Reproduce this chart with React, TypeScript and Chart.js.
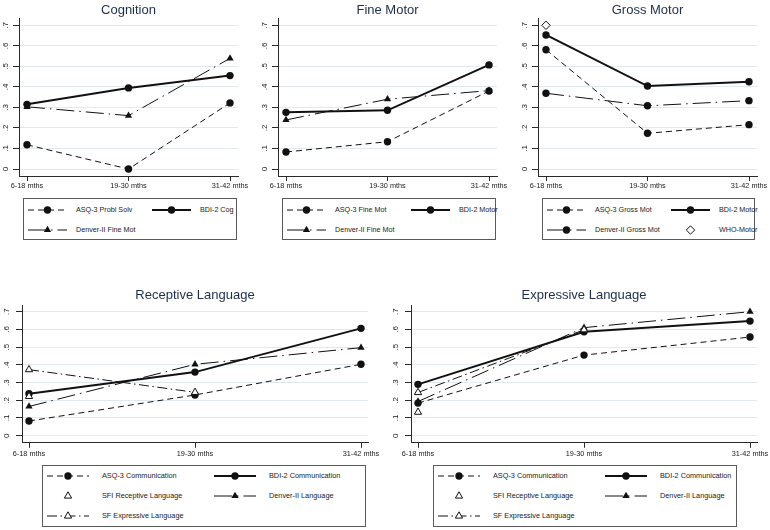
import React, { useEffect, useRef } from "react";
import { Chart, registerables } from "chart.js";

Chart.register(...registerables);

// ---------------- data ----------------
const categories = ["6-18 mths", "19-30 mths", "31-42 mths"];
const yTicks = [0, 0.1, 0.2, 0.3, 0.4, 0.5, 0.6, 0.7];
const yTickLabels = ["0", ".1", ".2", ".3", ".4", ".5", ".6", ".7"];

// Cognition
const cogAsq = [0.118, 0.0, 0.322];
const cogBdi = [0.315, 0.395, 0.455];
const cogDenver = [0.303, 0.26, 0.539];

// Fine Motor
const fineAsq = [0.083, 0.133, 0.38];
const fineBdi = [0.276, 0.286, 0.507];
const fineDenver = [0.239, 0.34, 0.382];

// Gross Motor
const grossAsq = [0.581, 0.174, 0.216];
const grossBdi = [0.653, 0.404, 0.425];
const grossDenver = [0.369, 0.308, 0.333];
const grossWho = [0.7, null, null];

// Receptive Language
const recAsq = [0.083, 0.23, 0.403];
const recBdi = [0.237, 0.359, 0.606];
const recSfi = [0.222, null, null];
const recDenver = [0.165, 0.403, 0.497];
const recSfe = [0.373, 0.245, null];

// Expressive Language
const expAsq = [0.184, 0.455, 0.557];
const expBdi = [0.29, 0.587, 0.647];
const expSfi = [0.133, null, null];
const expDenver = [0.193, 0.61, 0.7];
const expSfe = [0.244, 0.598, null];

// ---------------- styles ----------------
const FONT = '"Liberation Sans", Arial, Helvetica, sans-serif';
const TEXT = "#1a1a1a";
const AXIS = "#2a2a2a";
const GRID = "#e1e9ed";
const TITLE = "#1e2e4d";
const INK = "#111111";

type StyleKey = "asq" | "bdi" | "denverTri" | "denverCirc" | "sfi" | "sfe" | "who";
interface St {
  line: boolean;
  width: number;
  dash: number[];
  marker: "circle" | "triangle" | "rectRot";
  r: number;
  hollow: boolean;
}
const STYLES: Record<StyleKey, St> = {
  asq: { line: true, width: 1, dash: [6, 4], marker: "circle", r: 3.7, hollow: false },
  bdi: { line: true, width: 2, dash: [], marker: "circle", r: 3.7, hollow: false },
  denverTri: { line: true, width: 1, dash: [18, 5, 1.5, 5], marker: "triangle", r: 4.2, hollow: false },
  denverCirc: { line: true, width: 1, dash: [18, 5, 1.5, 5], marker: "circle", r: 3.7, hollow: false },
  sfi: { line: false, width: 1, dash: [], marker: "triangle", r: 4.2, hollow: true },
  sfe: { line: true, width: 1, dash: [10, 3.5, 1.5, 3.5], marker: "triangle", r: 4.2, hollow: true },
  who: { line: false, width: 1, dash: [], marker: "rectRot", r: 4.2, hollow: true },
};

interface Series {
  label: string;
  values: (number | null)[];
  style: StyleKey;
}
interface LegendCfg {
  x: number; y: number; w: number; h: number;
  pad: number; colW: number; sampleW: number; textOff: number;
  row0: number; rowH: number; font: number;
}
interface PanelCfg {
  title: string;
  series: Series[];
  cx: number; cy: number; cw: number; ch: number;
  L: number; R: number; B: number;
  ymin: number; ymax: number;
  padPx: number;
  titleTop: number; titleBottom: number;
  xLabPad: number; yLabOff: number;
  legend: LegendCfg;
}

const topLegend = (x: number, w: number): LegendCfg => ({
  x, y: 198, w, h: 42, pad: 5, colW: 124, sampleW: 39, textOff: 48, row0: 12, rowH: 19.5, font: 7.2,
});
const botLegend = (x: number, w: number): LegendCfg => ({
  x, y: 465, w, h: 62, pad: 5, colW: 167, sampleW: 42, textOff: 55, row0: 11, rowH: 20, font: 7.3,
});

const topCommon = {
  cy: 0, ch: 195, B: 176, ymin: -0.034, ymax: 0.7355, padPx: 8,
  titleTop: 2.4, titleBottom: 0.0, xLabPad: 1, yLabOff: 11.5,
};
const botCommon = {
  cy: 270, ch: 192, B: 442.8, ymin: -0.04, ymax: 0.735, padPx: 7,
  titleTop: 18.0, titleBottom: 1.9, xLabPad: 1.5, yLabOff: 13,
};

const PANELS: PanelCfg[] = [
  {
    ...topCommon, title: "Cognition", cx: 0, cw: 255, L: 19, R: 238,
    series: [
      { label: "ASQ-3 Probl Solv", values: cogAsq, style: "asq" },
      { label: "BDI-2 Cog", values: cogBdi, style: "bdi" },
      { label: "Denver-II Fine Mot", values: cogDenver, style: "denverTri" },
    ],
    legend: topLegend(23, 214),
  },
  {
    ...topCommon, title: "Fine Motor", cx: 255, cw: 255, L: 278, R: 497,
    series: [
      { label: "ASQ-3 Fine Mot", values: fineAsq, style: "asq" },
      { label: "BDI-2 Motor", values: fineBdi, style: "bdi" },
      { label: "Denver-II Fine Mot", values: fineDenver, style: "denverTri" },
    ],
    legend: topLegend(282, 214),
  },
  {
    ...topCommon, title: "Gross Motor", cx: 510, cw: 260, L: 538, R: 757,
    series: [
      { label: "ASQ-3 Gross Mot", values: grossAsq, style: "asq" },
      { label: "BDI-2 Motor", values: grossBdi, style: "bdi" },
      { label: "Denver-II Gross Mot", values: grossDenver, style: "denverCirc" },
      { label: "WHO-Motor", values: grossWho, style: "who" },
    ],
    legend: topLegend(542, 213),
  },
  {
    ...botCommon, title: "Receptive Language", cx: 0, cw: 385, L: 22, R: 368,
    series: [
      { label: "ASQ-3 Communication", values: recAsq, style: "asq" },
      { label: "BDI-2 Communication", values: recBdi, style: "bdi" },
      { label: "SFI Receptive Language", values: recSfi, style: "sfi" },
      { label: "Denver-II Language", values: recDenver, style: "denverTri" },
      { label: "SF Expressive Language", values: recSfe, style: "sfe" },
    ],
    legend: botLegend(42, 324),
  },
  {
    ...botCommon, title: "Expressive Language", cx: 385, cw: 385, L: 411, R: 757,
    series: [
      { label: "ASQ-3 Communication", values: expAsq, style: "asq" },
      { label: "BDI-2 Communication", values: expBdi, style: "bdi" },
      { label: "SFI Receptive Language", values: expSfi, style: "sfi" },
      { label: "Denver-II Language", values: expDenver, style: "denverTri" },
      { label: "SF Expressive Language", values: expSfe, style: "sfe" },
    ],
    legend: botLegend(433, 304),
  },
];

// ---------------- legend key ----------------
function LegendKey({ st, w }: { st: St; w: number }) {
  const cy = 5;
  const mx = w / 2;
  const fill = st.hollow ? "#fff" : INK;
  let marker: React.ReactNode = null;
  if (st.marker === "circle") {
    marker = <circle cx={mx} cy={cy} r={st.r} fill={fill} />;
  } else if (st.marker === "triangle") {
    const r = st.r;
    const pts = `${mx},${cy - r} ${mx + r * 0.866},${cy + r / 2} ${mx - r * 0.866},${cy + r / 2}`;
    marker = <polygon points={pts} fill={fill} stroke={INK} strokeWidth={st.hollow ? 1 : 0} />;
  } else {
    const r = st.r;
    const pts = `${mx - r},${cy} ${mx},${cy - r} ${mx + r},${cy} ${mx},${cy + r}`;
    marker = <polygon points={pts} fill={fill} stroke={INK} strokeWidth={1} />;
  }
  return (
    <svg width={w} height={10} style={{ position: "absolute", left: 0, top: 0, overflow: "visible" }}>
      {st.line && (
        <line
          x1={0}
          x2={w}
          y1={cy}
          y2={cy}
          stroke={INK}
          strokeWidth={st.width}
          strokeDasharray={st.dash.length ? st.dash.join(" ") : undefined}
        />
      )}
      {marker}
    </svg>
  );
}

function Legend({ p }: { p: PanelCfg }) {
  const lg = p.legend;
  return (
    <div
      style={{
        position: "absolute",
        left: lg.x,
        top: lg.y,
        width: lg.w,
        height: lg.h,
        border: "1px solid #5a5a5a",
        boxSizing: "border-box",
        background: "#fff",
      }}
    >
      {p.series.map((s, i) => {
        const col = i % 2;
        const row = Math.floor(i / 2);
        const left = lg.pad + col * lg.colW - 1;
        const cy = lg.row0 + row * lg.rowH - 1;
        return (
          <React.Fragment key={i}>
            <div style={{ position: "absolute", left, top: cy - 5, width: lg.sampleW, height: 10 }}>
              <LegendKey st={STYLES[s.style]} w={lg.sampleW} />
            </div>
            <span
              style={{
                position: "absolute",
                left: left + lg.textOff,
                top: cy - 5,
                height: 10,
                lineHeight: "10px",
                fontSize: lg.font,
                fontFamily: FONT,
                color: TEXT,
                whiteSpace: "nowrap",
              }}
            >
              {s.label}
            </span>
          </React.Fragment>
        );
      })}
    </div>
  );
}

// ---------------- panel ----------------
function Panel({ p }: { p: PanelCfg }) {
  const ref = useRef<HTMLCanvasElement>(null);
  useEffect(() => {
    if (!ref.current) return;
    const spacing = (p.R - p.L - 2 * p.padPx) / (categories.length - 1);
    const xPad = p.padPx / spacing;
    const yLabelPlugin = {
      id: "yRotLabels",
      afterDraw(chart: any) {
        const s = chart.scales.y;
        const ctx = chart.ctx as CanvasRenderingContext2D;
        ctx.save();
        ctx.fillStyle = TEXT;
        ctx.font = `8px ${FONT}`;
        ctx.textAlign = "center";
        ctx.textBaseline = "alphabetic";
        yTicks.forEach((v, i) => {
          const y = s.getPixelForValue(v);
          ctx.save();
          ctx.translate(chart.chartArea.left - p.yLabOff, y);
          ctx.rotate(-Math.PI / 2);
          ctx.fillText(yTickLabels[i], 0, 0);
          ctx.restore();
        });
        ctx.restore();
      },
    };
    const datasets = p.series.map((s, i) => {
      const st = STYLES[s.style];
      return {
        label: s.label,
        data: s.values.map((v, j) => ({ x: j, y: v })),
        showLine: st.line,
        borderColor: INK,
        borderWidth: st.width,
        borderDash: st.dash,
        pointStyle: st.marker,
        pointRadius: st.r,
        pointHoverRadius: st.r,
        pointBackgroundColor: st.hollow ? "#ffffff" : INK,
        pointBorderColor: INK,
        pointBorderWidth: st.hollow ? 1 : 0,
        tension: 0,
        spanGaps: false,
        fill: false,
        clip: false as any,
        order: -i,
      };
    });
    const chart = new Chart(ref.current, {
      type: "line",
      data: { datasets: datasets as any },
      options: {
        animation: false,
        responsive: false,
        events: [],
        layout: { padding: { left: 0, right: p.cx + p.cw - p.R, top: 0, bottom: 0 } },
        plugins: {
          legend: { display: false },
          tooltip: { enabled: false },
          title: {
            display: true,
            text: p.title,
            fullSize: false,
            color: TITLE,
            font: { size: 13, weight: "normal", family: FONT, lineHeight: 1.2 },
            padding: { top: p.titleTop, bottom: p.titleBottom },
          },
        },
        scales: {
          x: {
            type: "linear",
            min: -xPad,
            max: categories.length - 1 + xPad,
            afterBuildTicks: (s: any) => {
              s.ticks = categories.map((_, i) => ({ value: i }));
            },
            afterFit: (s: any) => {
              s.height = p.cy + p.ch - p.B;
              s.paddingLeft = 0;
              s.paddingRight = 0;
            },
            ticks: {
              callback: (v: any) => categories[Math.round(Number(v))],
              autoSkip: false,
              maxRotation: 0,
              minRotation: 0,
              padding: p.xLabPad,
              color: TEXT,
              font: { size: 7.3, family: FONT },
            },
            grid: {
              drawOnChartArea: false,
              drawTicks: true,
              tickLength: 5,
              tickColor: AXIS,
              tickWidth: 1,
            },
            border: { display: true, color: AXIS, width: 1 },
          },
          y: {
            type: "linear",
            min: p.ymin,
            max: p.ymax,
            afterBuildTicks: (s: any) => {
              s.ticks = yTicks.map((v) => ({ value: v }));
            },
            afterFit: (s: any) => {
              s.width = p.L - p.cx;
              s.paddingTop = 0;
              s.paddingBottom = 0;
            },
            ticks: { display: false },
            grid: {
              color: GRID,
              lineWidth: 1,
              drawTicks: true,
              tickLength: 6,
              tickColor: AXIS,
              tickWidth: 1,
            },
            border: { display: true, color: AXIS, width: 1 },
          },
        },
      } as any,
      plugins: [yLabelPlugin],
    });
    return () => chart.destroy();
  }, [p]);

  return (
    <>
      <canvas
        ref={ref}
        width={p.cw}
        height={p.ch}
        style={{ position: "absolute", left: p.cx, top: p.cy, width: p.cw, height: p.ch, display: "block" }}
      />
      <Legend p={p} />
    </>
  );
}

export default function App() {
  return (
    <div
      style={{
        position: "absolute",
        left: 0,
        top: 0,
        width: 770,
        height: 530,
        background: "#ffffff",
        fontFamily: FONT,
        overflow: "hidden",
      }}
    >
      {PANELS.map((p, i) => (
        <Panel key={i} p={p} />
      ))}
    </div>
  );
}
